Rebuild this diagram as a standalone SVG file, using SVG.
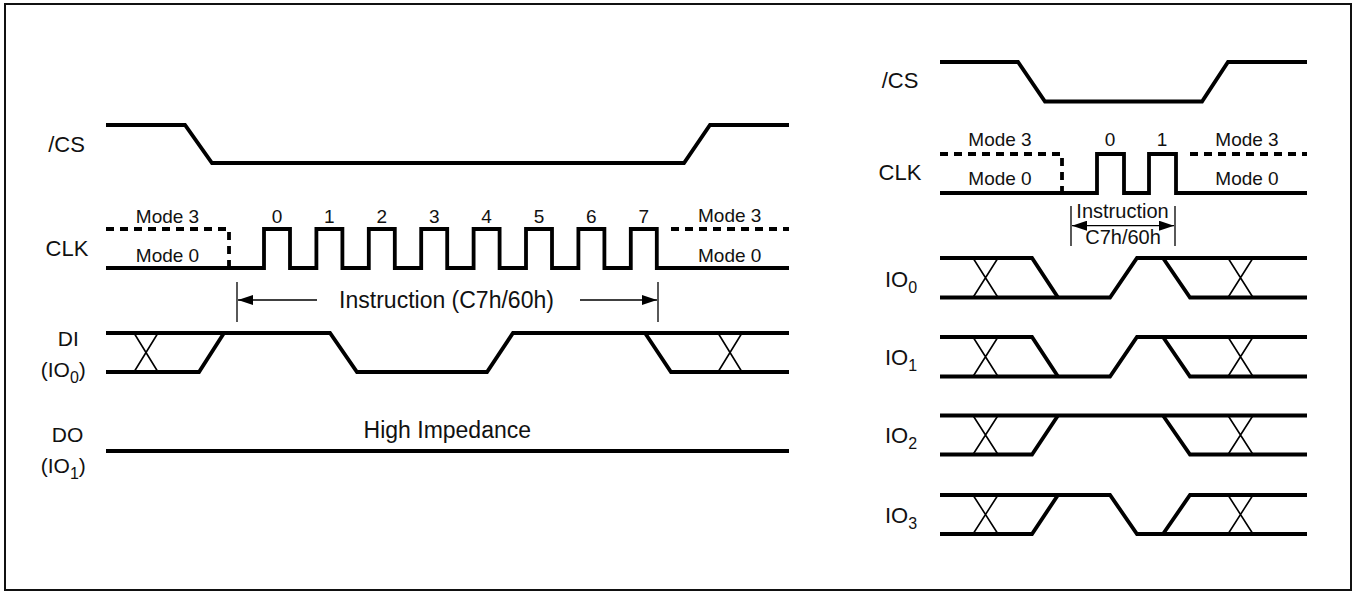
<svg xmlns="http://www.w3.org/2000/svg" width="1358" height="594" viewBox="0 0 1358 594">
<style>
.sig{fill:none;stroke:#000;stroke-width:3.8;stroke-linejoin:miter;stroke-linecap:butt}
.dash{fill:none;stroke:#000;stroke-width:3.8;stroke-dasharray:8 6}
.x{fill:none;stroke:#000;stroke-width:1.6}
.thin{fill:none;stroke:#000;stroke-width:1.3}
text{font-family:"Liberation Sans",Arial,sans-serif;fill:#111}
.lbl{font-size:22px;text-anchor:middle}
.mode{font-size:19px;text-anchor:middle}
.big{font-size:23px;text-anchor:middle}
.sm{font-size:20px;text-anchor:middle}
.io{font-size:22px}
</style>
<defs>
<marker id="ah" markerUnits="userSpaceOnUse" markerWidth="16" markerHeight="10" refX="15" refY="5" orient="auto-start-reverse">
<path d="M0,0 L15,5 L0,10 z" fill="#000"/>
</marker>
</defs>
<rect x="5" y="4" width="1346" height="586" fill="#fff" stroke="#111" stroke-width="2"/>

<g id="left-cs">
<text class="lbl" x="66.5" y="151.5">/CS</text>
<path class="sig" d="M106,125 H185 L212,163 H684 L710,125 H789"/>
</g>
<g id="left-clk">
<text class="lbl" x="67" y="256">CLK</text>
<text class="mode" x="167.5" y="222.5">Mode 3</text>
<text class="mode" x="167.5" y="261.7">Mode 0</text>
<text class="mode" x="729.7" y="222">Mode 3</text>
<text class="mode" x="729.7" y="261.5">Mode 0</text>
<path class="dash" d="M106,229 H229 V268"/>
<path class="dash" d="M671,229 H789"/>
<path class="sig" d="M106,268 H264 V229 H290 V268 H316.4 V229 H342.4 V268 H368.8 V229 H394.8 V268 H421.2 V229 H447.2 V268 H473.6 V229 H499.6 V268 H526 V229 H552 V268 H578.4 V229 H604.4 V268 H630.8 V229 H656.8 V268 H789"/>
<text class="mode" x="277" y="222.5">0</text>
<text class="mode" x="329.4" y="222.5">1</text>
<text class="mode" x="381.8" y="222.5">2</text>
<text class="mode" x="434.2" y="222.5">3</text>
<text class="mode" x="486.6" y="222.5">4</text>
<text class="mode" x="539" y="222.5">5</text>
<text class="mode" x="591.4" y="222.5">6</text>
<text class="mode" x="643.8" y="222.5">7</text>
</g>
<g id="left-di">
<text class="lbl" x="68.3" y="346" style="font-size:21px">DI</text>
<text class="lbl" x="63.3" y="376.7" style="font-size:21px">(IO<tspan font-size="16" dy="6">0</tspan><tspan dy="-6">)</tspan></text>
<path class="sig" d="M106,333 H330 L357,372 H487 L513,333 H789"/>
<path class="sig" d="M106,372 H199 L224,333"/>
<path class="sig" d="M645,333 L671,372 H789"/>
<path class="x" d="M134,333 L158,372 M158,333 L134,372 M718,333 L742,372 M742,333 L718,372"/>
</g>
<g id="left-do">
<text class="lbl" x="67.5" y="441.7" style="font-size:21px">DO</text>
<text class="lbl" x="63.3" y="473.3" style="font-size:21px">(IO<tspan font-size="16" dy="6">1</tspan><tspan dy="-6">)</tspan></text>
<text class="big" x="447.3" y="438.3">High Impedance</text>
<path class="sig" d="M106,451 H789"/>
</g>

<g id="right-cs">
<text class="lbl" x="900" y="88">/CS</text>
<path class="sig" d="M940,62 H1018 L1045,101.5 H1202 L1228,62 H1307"/>
</g>
<g id="right-clk">
<text class="lbl" x="900" y="180">CLK</text>
<text class="mode" x="1000" y="146">Mode 3</text>
<text class="mode" x="1000" y="185">Mode 0</text>
<text class="mode" x="1247" y="146">Mode 3</text>
<text class="mode" x="1247" y="185">Mode 0</text>
<text class="mode" x="1110" y="146">0</text>
<text class="mode" x="1162" y="146">1</text>
<path class="dash" d="M940,154 H1062 V193"/>
<path class="dash" d="M1190,154 H1307"/>
<path class="sig" d="M940,193 H1097 V154 H1124 V193 H1149 V154 H1176 V193 H1307"/>
</g>
<g id="right-io0">
<text class="io" x="885" y="287">IO<tspan font-size="16" dy="6">0</tspan></text>
<path class="sig" d="M940,258 H1032 L1058,297.5"/>
<path class="sig" d="M940,297.5 H1110 L1137,258 H1307"/>
<path class="sig" d="M1163,258 L1190,297.5 H1307"/>
<path class="x" d="M973,258 L998,297.5 M998,258 L973,297.5 M1228,258 L1253,297.5 M1253,258 L1228,297.5"/>
</g>
<g id="right-io1">
<text class="io" x="885" y="365">IO<tspan font-size="16" dy="6">1</tspan></text>
<path class="sig" d="M940,337 H1032 L1058,376.5"/>
<path class="sig" d="M940,376.5 H1110 L1137,337 H1307"/>
<path class="sig" d="M1163,337 L1190,376.5 H1307"/>
<path class="x" d="M973,337 L998,376.5 M998,337 L973,376.5 M1228,337 L1253,376.5 M1253,337 L1228,376.5"/>
</g>
<g id="right-io2">
<text class="io" x="885" y="443">IO<tspan font-size="16" dy="6">2</tspan></text>
<path class="sig" d="M940,415.5 H1307"/>
<path class="sig" d="M940,454.5 H1032 L1058,415.5"/>
<path class="sig" d="M1163,415.5 L1190,454.5 H1307"/>
<path class="x" d="M973,415.5 L998,454.5 M998,415.5 L973,454.5 M1228,415.5 L1253,454.5 M1253,415.5 L1228,454.5"/>
</g>
<g id="right-io3">
<text class="io" x="885" y="523">IO<tspan font-size="16" dy="6">3</tspan></text>
<path class="sig" d="M940,495 H1110 L1137,534 H1307"/>
<path class="sig" d="M940,534 H1032 L1058,495"/>
<path class="sig" d="M1163,534 L1190,495 H1307"/>
<path class="x" d="M973,495 L998,534 M998,495 L973,534 M1228,495 L1253,534 M1253,495 L1228,534"/>
</g>

<g id="connectors">
<path class="thin" d="M237,282 V322 M658,282 V322"/>
<path class="thin" d="M317,300 H238" marker-end="url(#ah)"/>
<path class="thin" d="M580,300 H657" marker-end="url(#ah)"/>
<text class="big" x="446.5" y="308.3">Instruction (C7h/60h)</text>
<path class="thin" d="M1071,206 V246 M1175,206 V246"/>
<path class="thin" d="M1072,225.7 H1174" marker-start="url(#ah)" marker-end="url(#ah)"/>
<text class="sm" x="1122.5" y="218">Instruction</text>
<text class="sm" x="1123" y="244">C7h/60h</text>
</g>
</svg>
